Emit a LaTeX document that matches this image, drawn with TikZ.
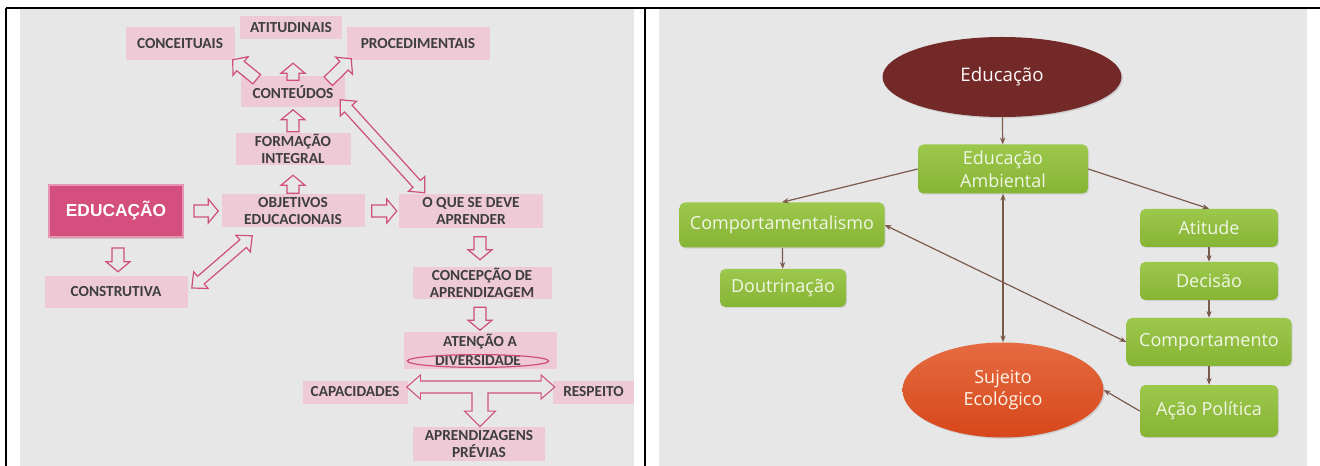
\documentclass[tikz,border=0pt]{standalone}
\usepackage{fontspec}
\setmainfont{Carlito}
\newfontfamily\headfont{Liberation Sans}
\newfontfamily\roundfont{Open Sans}
\usetikzlibrary{calc,shapes.geometric,arrows.meta,shadows}

\definecolor{panelgray}{HTML}{E7E7E7}
\definecolor{boxpink}{HTML}{EDCAD6}
\definecolor{arrowpink}{HTML}{CF4F7A}
\definecolor{edupink}{HTML}{D44F7D}
\definecolor{edurim}{HTML}{E795B3}
\definecolor{textgray}{HTML}{3E3E3E}
\definecolor{maroon}{HTML}{742929}
\definecolor{leafgreen}{HTML}{90BE3E}
\definecolor{leaftop}{HTML}{9CC84C}
\definecolor{leafbottom}{HTML}{86B434}
\definecolor{paletext}{HTML}{F2F6E6}
\definecolor{brownline}{HTML}{7A5B4B}
\definecolor{sunsettop}{HTML}{E56B40}
\definecolor{sunsetbottom}{HTML}{D7471B}

\tikzstyle{pinkbox}=[fill=boxpink,inner sep=0pt,align=center,text=textgray,
  font=\fontsize{11.5}{13}\selectfont\bfseries]
\tikzstyle{greenbox}=[top color=leaftop,bottom color=leafbottom,rounded corners=4pt,
  inner sep=0pt,align=center,text=paletext,font=\roundfont\fontsize{13.5}{17}\selectfont,
  drop shadow={opacity=0.2,shadow xshift=0.8pt,shadow yshift=-0.8pt}]
\tikzstyle{link}=[draw=brownline,line width=0.9pt,-{Stealth[length=5pt,width=4pt]}]
\tikzstyle{linkboth}=[link,{Stealth[length=5pt,width=4pt]}-{Stealth[length=5pt,width=4pt]}]
\tikzstyle{hollow}=[draw=arrowpink,fill=panelgray,line width=0.9pt,line join=miter]

% hollow block arrows between two points
\def\headw{9pt}\def\shaftw{4.5pt}\def\headl{7.5pt}
\newcommand{\blockarrow}[3][]{%
  \coordinate (ba-s) at (#2);
  \coordinate (ba-e) at (#3);
  \coordinate (ba-c) at ($(ba-e)!\headl!(ba-s)$);
  \path[hollow,#1] ($(ba-s)!\shaftw!90:(ba-e)$) -- ($(ba-c)!\shaftw!90:(ba-e)$)
    -- ($(ba-c)!\headw!90:(ba-e)$) -- (ba-e) -- ($(ba-c)!\headw!-90:(ba-e)$)
    -- ($(ba-c)!\shaftw!-90:(ba-e)$) -- ($(ba-s)!\shaftw!-90:(ba-e)$) -- cycle;
}
\newcommand{\dblockarrow}[3][]{%
  \coordinate (ba-s) at (#2);
  \coordinate (ba-e) at (#3);
  \coordinate (ba-c) at ($(ba-e)!\headl!(ba-s)$);
  \coordinate (ba-d) at ($(ba-s)!\headl!(ba-e)$);
  \path[hollow,#1] (ba-s) -- ($(ba-d)!\headw!90:(ba-e)$) -- ($(ba-d)!\shaftw!90:(ba-e)$)
    -- ($(ba-c)!\shaftw!90:(ba-e)$) -- ($(ba-c)!\headw!90:(ba-e)$) -- (ba-e)
    -- ($(ba-c)!\headw!-90:(ba-e)$) -- ($(ba-c)!\shaftw!-90:(ba-e)$)
    -- ($(ba-d)!\shaftw!-90:(ba-e)$) -- ($(ba-d)!\headw!-90:(ba-e)$) -- cycle;
}

\begin{document}
\begin{tikzpicture}[x=0.75pt,y=-0.75pt]
  \useasboundingbox (0,0) rectangle (1320,466);
  \fill[white] (0,0) rectangle (1320,466);
  % the two panels and the table rules
  \fill[panelgray] (20,9) rectangle (634,466);
  \fill[panelgray] (659,9) rectangle (1307,466);
  \draw[line width=1.4pt] (6,8) -- (1320,8);
  \draw[line width=1.6pt] (6,8) -- (6,466);
  \draw[line width=1.6pt] (645,8) -- (645,466);

  % left panel
  \foreach \place/\name/\boxw/\boxh/\txt in {{(180,44)/conceituais/81.75/24.75/CONCEITUAIS},
                                           {(291,28)/atitudinais/76.5/17.25/ATITUDINAIS},
                                           {(418,44)/procedimentais/107.25/24.75/PROCEDIMENTAIS},
                                           {(293,92)/conteudos/78/23.25/CONTEÚDOS},
                                           {(293,149)/formacao/86.25/24/FORMAÇÃO\\INTEGRAL},
                                           {(293,211)/objetivos/107.25/24.75/OBJETIVOS\\EDUCACIONAIS},
                                           {(471,211)/oque/108/25.5/O QUE SE DEVE\\APRENDER},
                                           {(116,292)/construtiva/107.25/24/CONSTRUTIVA},
                                           {(482,283)/concepcao/104.25/24/CONCEPÇÃO DE\\APRENDIZAGEM},
                                           {(480,351)/atencao/114.75/27.75/},
                                           {(355,392)/capacidades/78.75/17.25/CAPACIDADES},
                                           {(593.5,392)/respeito/60.75/17.25/RESPEITO},
                                           {(479,444)/previas/99/25.5/APRENDIZAGENS\\PRÉVIAS}}
    \node[pinkbox,minimum width=\boxw pt,minimum height=\boxh pt] (\name) at \place {\txt};
  \node[pinkbox,fill=none] (atencaotxt) at (480,342) {ATENÇÃO A};
  \node[pinkbox,fill=none] (diversidade) at (478,361) {DIVERSIDADE};
  \draw[arrowpink,line width=0.9pt] (diversidade.center) ellipse [x radius=53pt,y radius=4.8pt];
  \node[fill=edupink,draw=edurim,line width=1.5pt,minimum width=100.5pt,minimum height=39pt,
        drop shadow={opacity=0.3,shadow xshift=1pt,shadow yshift=-1.2pt},
        text=white,font=\headfont\fontsize{13}{15}\selectfont\bfseries] (educacao) at (116,211) {EDUCAÇÃO};

  \blockarrow{$(conteudos.north)+(0,4)$}{$(conteudos.north)+(0,-13)$}
  \blockarrow{$(conteudos.north west)+(16,3)$}{$(conceituais.south east)+(-2,-1)$}
  \blockarrow{$(conteudos.north east)+(-17,5)$}{$(procedimentais.south west)+(5,-2)$}
  \blockarrow{$(formacao.north)+(0,-1)$}{$(conteudos.south)+(0,2)$}
  \blockarrow{$(objetivos.north)+(0,-1)$}{$(formacao.south)+(0,10)$}
  \blockarrow{$(educacao.east)+(10,0)$}{$(objetivos.west)+(-3,0)$}
  \blockarrow{$(educacao.south)+(2,10)$}{$(construtiva.north)+(2,-4)$}
  \blockarrow{$(objetivos.east)+(7,0)$}{$(oque.west)+(-2,0)$}
  \blockarrow{$(concepcao.north)+(-2,-30)$}{$(concepcao.north)+(-2,-7)$}
  \blockarrow{$(atencao.north)+(0,-25)$}{$(atencao.north)+(0,-2)$}
  {\def\headw{8.25pt}\def\shaftw{3.8pt}\def\headl{9pt}
  \dblockarrow{$(construtiva.east)+(4,-4)$}{$(objetivos.south west)+(31,8)$}
  \dblockarrow{$(conteudos.south east)+(-5,-8)$}{$(oque.north west)+(26,-1)$}}
  % the T below ATENCAO A DIVERSIDADE
  {\def\headw{7.9pt}\def\shaftw{4.1pt}\def\headl{9pt}
  \dblockarrow[fill=none,line width=1.8pt]{$(capacidades.east)+(0,-5)$}{$(respeito.west)+(1,-5)$}}
  {\def\headw{10.5pt}\def\shaftw{5.6pt}\def\headl{10.5pt}
  \blockarrow[fill=none,line width=1.8pt]{$(previas.north)+(1,-42)$}{$(previas.north)+(1,-1)$}}
  {\def\headw{7.9pt}\def\shaftw{4.1pt}\def\headl{9pt}
  \dblockarrow[draw=none]{$(capacidades.east)+(0,-5)$}{$(respeito.west)+(1,-5)$}}
  {\def\headw{10.5pt}\def\shaftw{5.6pt}\def\headl{10.5pt}
  \blockarrow[draw=none]{$(previas.north)+(1,-42)$}{$(previas.north)+(1,-1)$}}

  % right panel
  \node[ellipse,fill=maroon,minimum width=179.25pt,minimum height=60pt,inner sep=0pt,
        drop shadow={opacity=0.25,shadow xshift=1pt,shadow yshift=-1pt},
        text=white!90!pink,font=\roundfont\fontsize{14}{17}\selectfont] (educ) at (1002,77) {Educação};
  \node[ellipse,top color=sunsettop,bottom color=sunsetbottom,minimum width=150.75pt,minimum height=71.25pt,
        inner sep=0pt,align=center,drop shadow={opacity=0.25,shadow xshift=1pt,shadow yshift=-1pt},
        text=white!92!orange,font=\roundfont\fontsize{13.5}{16}\selectfont] (sujeito) at (1003,390) {Sujeito\\Ecológico};
  \foreach \place/\name/\boxw/\boxh/\txt in {{(1003,169)/ambiental/127.5/36.75/Educação\\Ambiental},
                                           {(782,225)/comportamentalismo/153.75/33.75/Comportamentalismo},
                                           {(783,288)/doutrinacao/94.5/28.5/Doutrinação},
                                           {(1209,228)/atitude/103.5/28.5/Atitude},
                                           {(1209,281)/decisao/103.5/28.5/Decisão},
                                           {(1209,342)/comportamento/123.75/36/Comportamento},
                                           {(1209,411)/acao/103.5/39/Ação Política}}
    \node[greenbox,minimum width=\boxw pt,minimum height=\boxh pt] (\name) at \place {\txt};

  \draw[link] (educ) -- (ambiental);
  \draw[link] (ambiental.west) -- (comportamentalismo.north);
  \draw[link] (ambiental.east) -- (atitude.north);
  \foreach \source/\dest in {comportamentalismo/doutrinacao,atitude/decisao,
                             decisao/comportamento,comportamento/acao}
    \draw[link] (\source) -- (\dest);
  \draw[linkboth] (ambiental.south) -- (sujeito.north);
  \draw[linkboth] (comportamentalismo.east) -- (comportamento.west);
  \draw[link] (acao.west) -- (sujeito.east);
\end{tikzpicture}
\end{document}
